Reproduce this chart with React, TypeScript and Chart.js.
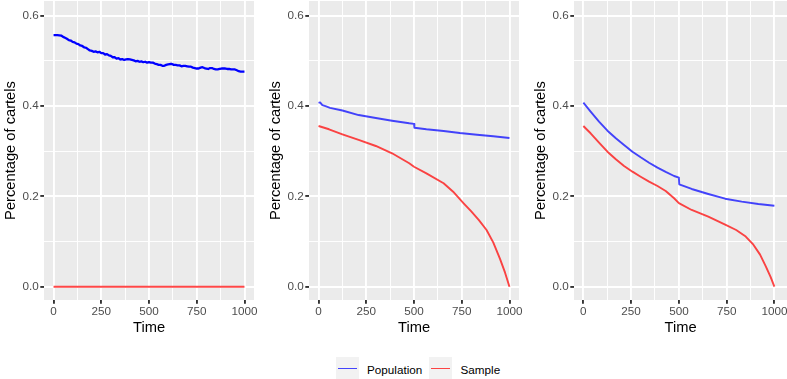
import React, { useEffect, useRef } from "react";
import { Chart, registerables } from "chart.js";

Chart.register(...registerables);

// ---------- data ----------
const X_TICKS = [0, 125, 250, 375, 500, 625, 750, 875, 1000];
const Y_TICKS = [0, 0.1, 0.2, 0.3, 0.4, 0.5, 0.6];
const SERIES_NAMES = ["Population", "Sample"];
const X_TITLE = "Time";
const Y_TITLE = "Percentage of cartels";

// Panel 1
const P1_POP_T = [
  0, 10, 20, 30, 40, 50, 60, 70, 80, 90, 100, 110, 120, 130, 140, 150, 160, 170, 180, 190,
  200, 210, 220, 230, 240, 250, 260, 270, 280, 290, 300, 310, 320, 330, 340, 350, 360, 370, 380, 390,
  400, 410, 420, 430, 440, 450, 460, 470, 480, 490, 500, 510, 520, 530, 540, 550, 560, 570, 580, 590,
  600, 610, 620, 630, 640, 650, 660, 670, 680, 690, 700, 710, 720, 730, 740, 750, 760, 770, 780, 790,
  800, 810, 820, 830, 840, 850, 860, 870, 880, 890, 900, 910, 920, 930, 940, 950, 960, 970, 980, 990, 1000,
];
const P1_POP_V = [
  0.557, 0.557, 0.557, 0.5565, 0.556, 0.553, 0.551, 0.549, 0.546, 0.545, 0.542, 0.541, 0.538, 0.537, 0.534, 0.533, 0.53, 0.529, 0.526, 0.523,
  0.522, 0.52, 0.521, 0.519, 0.52, 0.517, 0.517, 0.514, 0.515, 0.512, 0.511, 0.508, 0.508, 0.505, 0.506, 0.503, 0.504, 0.502, 0.503, 0.504,
  0.503, 0.502, 0.501, 0.499, 0.5, 0.498, 0.499, 0.497, 0.498, 0.496, 0.497, 0.496, 0.496, 0.494, 0.493, 0.491, 0.491, 0.489, 0.489, 0.491,
  0.492, 0.493, 0.493, 0.491, 0.491, 0.49, 0.49, 0.488, 0.489, 0.489, 0.488, 0.487, 0.487, 0.485, 0.484, 0.483, 0.483, 0.485, 0.486, 0.484,
  0.483, 0.482, 0.484, 0.484, 0.482, 0.481, 0.481, 0.482, 0.483, 0.483, 0.483, 0.482, 0.482, 0.481, 0.481, 0.481, 0.479, 0.477, 0.476, 0.476, 0.476,
];
const P1_SAM_T = [0, 1000];
const P1_SAM_V = [0, 0];

// Panel 2
const P2_POP_T = [0, 8, 20, 40, 60, 125, 210, 300, 385, 475, 500, 502, 565, 655, 740, 830, 915, 1000];
const P2_POP_V = [0.407, 0.408, 0.402, 0.399, 0.396, 0.39, 0.38, 0.3735, 0.3675, 0.3617, 0.3605, 0.352, 0.3485, 0.3447, 0.3403, 0.3365, 0.333, 0.3292];
const P2_SAM_T = [0, 55, 125, 210, 300, 385, 475, 500, 565, 655, 705, 760, 800, 840, 880, 915, 950, 977, 1000];
const P2_SAM_V = [0.3558, 0.3485, 0.3374, 0.3248, 0.3115, 0.2953, 0.2732, 0.2655, 0.251, 0.2289, 0.2103, 0.1846, 0.1665, 0.1475, 0.1255, 0.098, 0.062, 0.031, 0];

// Panel 3
const P3_POP_T = [0, 38, 82, 126, 170, 213, 257, 300, 344, 388, 431, 475, 500, 502, 567, 654, 742, 829, 916, 1000];
const P3_POP_V = [0.4074, 0.3875, 0.3653, 0.3454, 0.3285, 0.3137, 0.2989, 0.2864, 0.2745, 0.2635, 0.254, 0.245, 0.2415, 0.2267, 0.2163, 0.2052, 0.1948, 0.1882, 0.1831, 0.1793];
const P3_SAM_T = [0, 38, 82, 126, 170, 213, 257, 300, 344, 388, 431, 475, 500, 567, 654, 745, 800, 850, 890, 925, 955, 980, 1000];
const P3_SAM_V = [0.3558, 0.3396, 0.3188, 0.2989, 0.282, 0.2672, 0.2546, 0.2435, 0.2325, 0.2229, 0.2119, 0.1957, 0.185, 0.1698, 0.155, 0.137, 0.1255, 0.111, 0.093, 0.071, 0.045, 0.0215, 0];

// ---------- styling ----------
const FONT = "'Liberation Sans', Arial, Helvetica, sans-serif";
const PANEL_BG = "#EBEBEB";
const POP_COLOR = "rgba(0,0,255,0.72)";
const SAM_COLOR = "rgba(255,0,0,0.72)";

const isMajorX = (v: number) => Math.round(v) % 250 === 0;
const isMajorY = (v: number) => Math.round(v * 10) % 2 === 0;

const bgPlugin = {
  id: "panelBg",
  beforeDraw(chart: any) {
    const { ctx, chartArea } = chart;
    ctx.save();
    ctx.fillStyle = PANEL_BG;
    ctx.fillRect(chartArea.left, chartArea.top, chartArea.right - chartArea.left, chartArea.bottom - chartArea.top);
    ctx.restore();
  },
};

type Series = { name: string; t: number[]; v: number[]; color: string; width: number };

function Panel(props: { left: number; width: number; padRight: number; xMin: number; xMax: number; series: Series[] }) {
  const ref = useRef<HTMLCanvasElement>(null);
  useEffect(() => {
    const chart = new Chart(ref.current as HTMLCanvasElement, {
      type: "line",
      data: {
        datasets: props.series.map((s) => ({
          label: s.name,
          data: s.t.map((t, i) => ({ x: t, y: s.v[i] })),
          borderColor: s.color,
          borderWidth: s.width,
          pointRadius: 0,
          tension: 0,
          fill: false,
          borderJoinStyle: "round" as const,
        })),
      },
      options: {
        responsive: false,
        animation: false,
        events: [],
        layout: { padding: { top: 1, right: props.padRight, left: 0, bottom: 0 } },
        plugins: { legend: { display: false }, tooltip: { enabled: false } },
        scales: {
          x: {
            type: "linear",
            min: props.xMin,
            max: props.xMax,
            afterBuildTicks: (s: any) => {
              s.ticks = X_TICKS.map((v) => ({ value: v }));
            },
            afterFit: (s: any) => {
              s.height = 40;
              s.paddingLeft = 0;
              s.paddingRight = 0;
            },
            border: { display: false },
            grid: {
              color: "#FFFFFF",
              lineWidth: (c: any) => (c.tick && isMajorX(c.tick.value) ? 1.9 : 0.95),
              tickLength: 3.7,
              tickWidth: 1.9,
              tickColor: (c: any) => (c.tick && isMajorX(c.tick.value) ? "#333333" : "rgba(0,0,0,0)"),
            },
            ticks: {
              autoSkip: false,
              maxRotation: 0,
              color: "#4D4D4D",
              padding: 1.5,
              font: { family: FONT, size: 11.7 },
              callback: (v: any) => (isMajorX(Number(v)) ? String(v) : ""),
            },
            title: {
              display: true,
              text: X_TITLE,
              color: "#000000",
              font: { family: FONT, size: 14.7 },
              padding: { top: 0, bottom: 3 },
            },
          },
          y: {
            type: "linear",
            min: -0.0295,
            max: 0.6325,
            afterBuildTicks: (s: any) => {
              s.ticks = Y_TICKS.map((v) => ({ value: v }));
            },
            afterFit: (s: any) => {
              s.width = 44;
              s.paddingTop = 0;
              s.paddingBottom = 0;
            },
            border: { display: false },
            grid: {
              color: "#FFFFFF",
              lineWidth: (c: any) => (c.tick && isMajorY(c.tick.value) ? 1.9 : 0.95),
              tickLength: 3.7,
              tickWidth: 1.9,
              tickColor: (c: any) => (c.tick && isMajorY(c.tick.value) ? "#333333" : "rgba(0,0,0,0)"),
            },
            ticks: {
              autoSkip: false,
              color: "#4D4D4D",
              padding: 1.5,
              font: { family: FONT, size: 11.7 },
              callback: (v: any) => (isMajorY(Number(v)) ? Number(v).toFixed(1) : ""),
            },
            title: {
              display: true,
              text: Y_TITLE,
              color: "#000000",
              font: { family: FONT, size: 14.7 },
              padding: { top: 2.2, bottom: 0 },
            },
          },
        },
      },
      plugins: [bgPlugin],
    } as any);
    return () => chart.destroy();
  }, []);
  return (
    <canvas
      ref={ref}
      width={props.width}
      height={340}
      style={{ position: "absolute", left: props.left, top: 0, width: props.width, height: 340 }}
    />
  );
}

function LegendKey(props: { left: number; color: string }) {
  return (
    <div style={{ position: "absolute", left: props.left, top: 357, width: 23, height: 23, background: "#F2F2F2" }}>
      <div style={{ position: "absolute", left: 2, right: 2, top: 10.5, height: 1.9, background: props.color }} />
    </div>
  );
}

function LegendText(props: { left: number; text: string }) {
  return (
    <div
      style={{
        position: "absolute",
        left: props.left,
        top: 362.5,
        fontFamily: FONT,
        fontSize: 11.7,
        lineHeight: "14px",
        color: "#000000",
        whiteSpace: "nowrap",
      }}
    >
      {props.text}
    </div>
  );
}

export default function App() {
  const p1: Series[] = [
    { name: SERIES_NAMES[0], t: P1_POP_T, v: P1_POP_V, color: "#0000FF", width: 2.3 },
    { name: SERIES_NAMES[1], t: P1_SAM_T, v: P1_SAM_V, color: SAM_COLOR, width: 1.9 },
  ];
  const p2: Series[] = [
    { name: SERIES_NAMES[0], t: P2_POP_T, v: P2_POP_V, color: POP_COLOR, width: 1.9 },
    { name: SERIES_NAMES[1], t: P2_SAM_T, v: P2_SAM_V, color: SAM_COLOR, width: 1.9 },
  ];
  const p3: Series[] = [
    { name: SERIES_NAMES[0], t: P3_POP_T, v: P3_POP_V, color: POP_COLOR, width: 1.9 },
    { name: SERIES_NAMES[1], t: P3_SAM_T, v: P3_SAM_V, color: SAM_COLOR, width: 1.9 },
  ];
  return (
    <div style={{ position: "absolute", left: 0, top: 0, width: 787, height: 379, overflow: "hidden", background: "#FFFFFF" }}>
      <Panel left={0} width={265} padRight={11} xMin={-50} xMax={1050} series={p1} />
      <Panel left={265} width={265} padRight={11} xMin={-50} xMax={1050} series={p2} />
      <Panel left={530} width={257} padRight={0} xMin={-49} xMax={1066} series={p3} />
      <LegendKey left={336} color={POP_COLOR} />
      <LegendText left={367} text={SERIES_NAMES[0]} />
      <LegendKey left={429} color={SAM_COLOR} />
      <LegendText left={460.5} text={SERIES_NAMES[1]} />
    </div>
  );
}
